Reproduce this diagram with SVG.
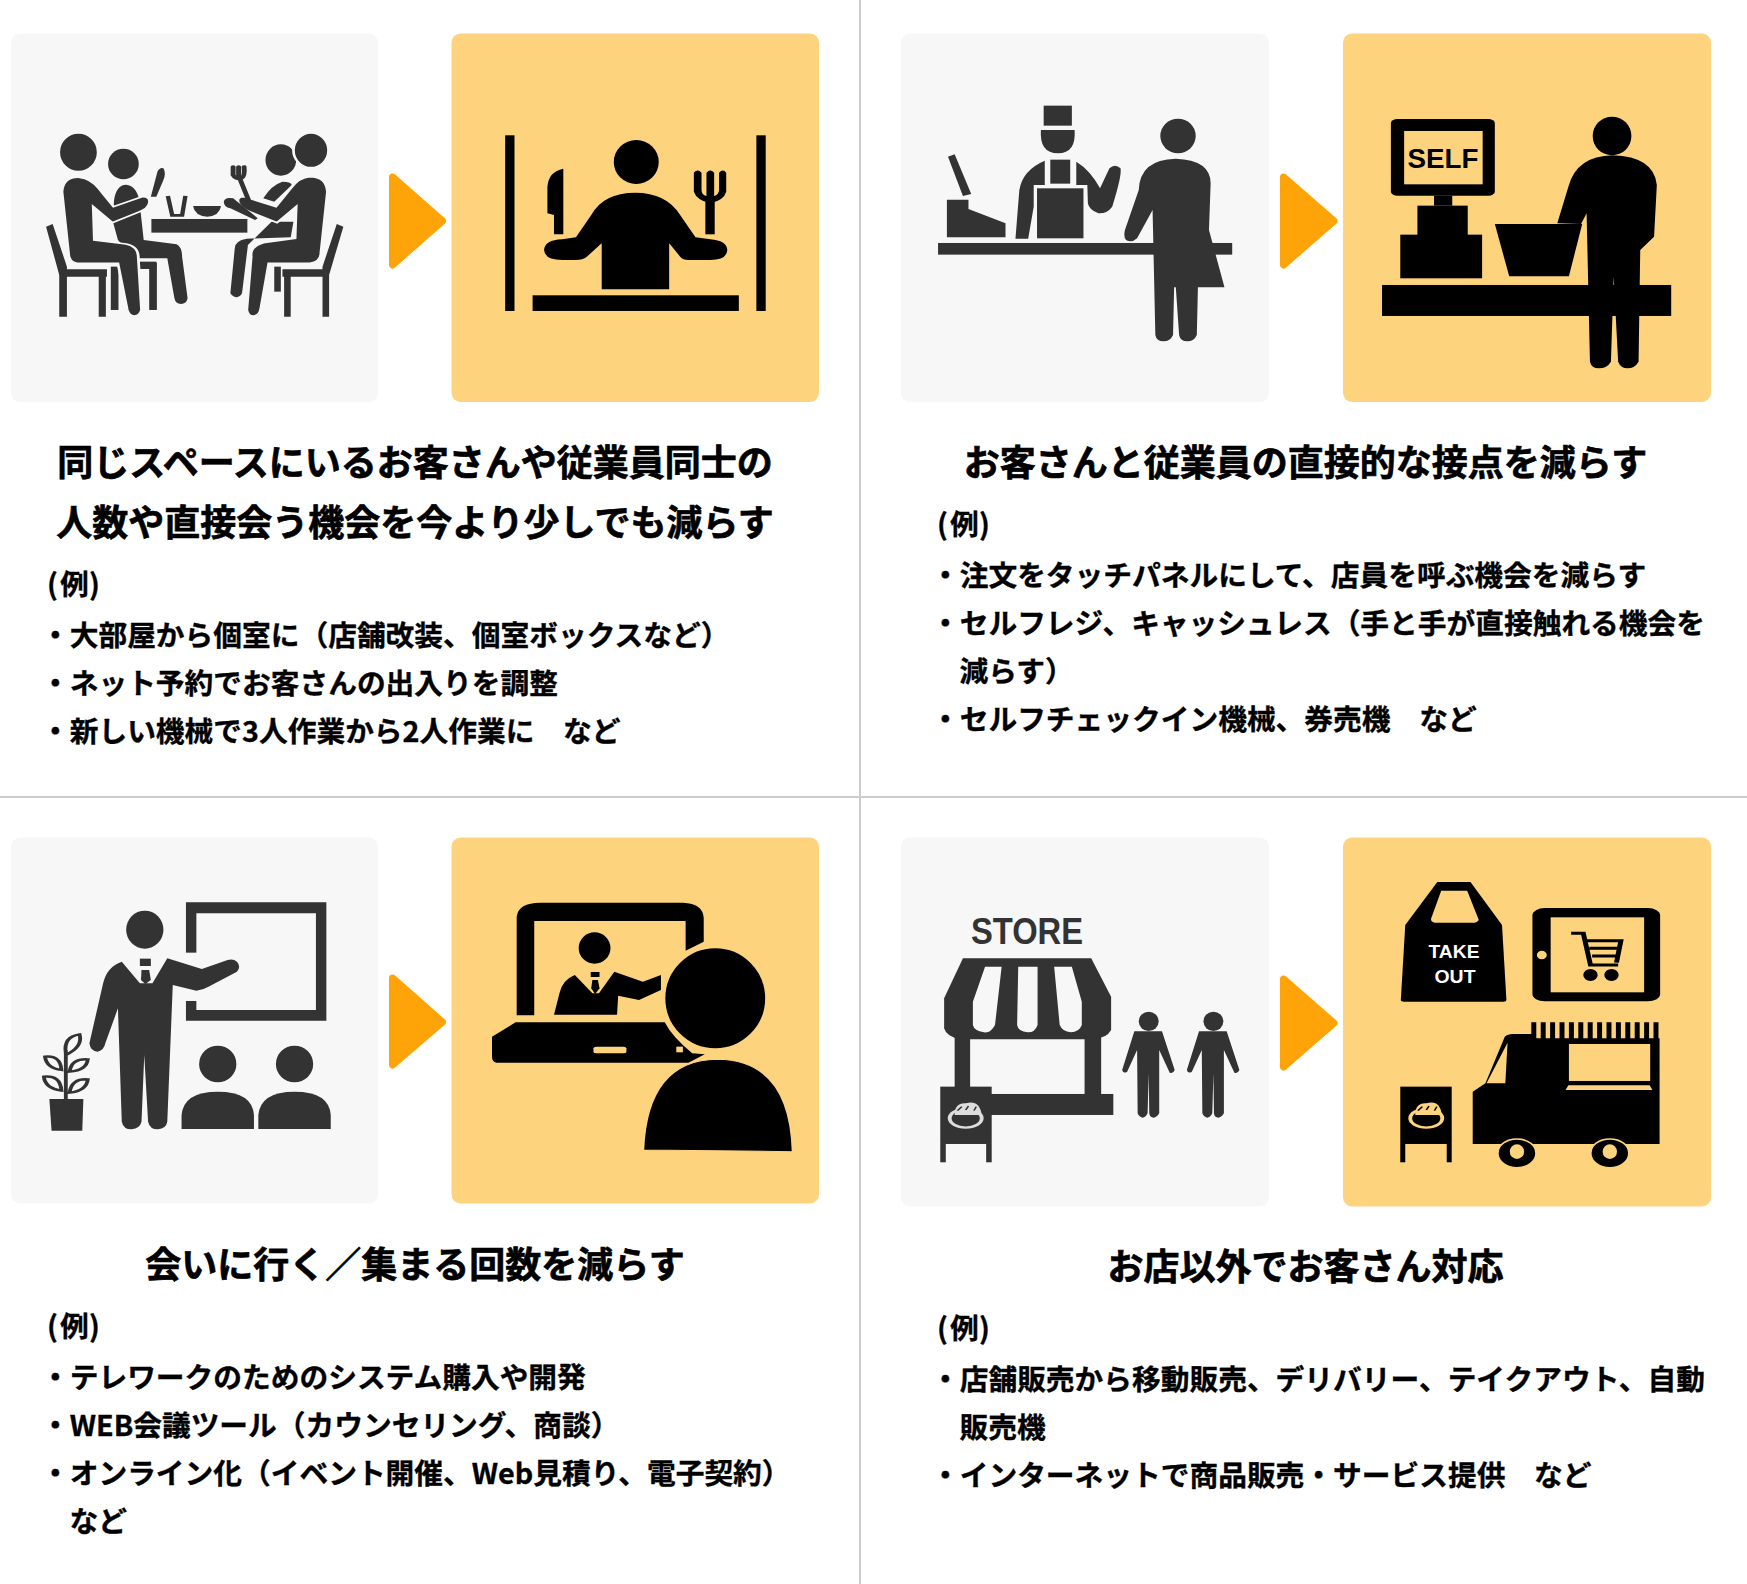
<svg xmlns="http://www.w3.org/2000/svg" xmlns:xlink="http://www.w3.org/1999/xlink" width="1747" height="1584" viewBox="0 0 1747 1584">
<style>
text{font-family:"Noto Sans CJK JP","Liberation Sans",sans-serif;font-weight:700;fill:#000}
.h{font-size:36px;text-anchor:middle;stroke:#000;stroke-width:.7px}
.b{font-size:28.72px;stroke:#000;stroke-width:.35px}
.lbl{font-family:"Liberation Sans",sans-serif}
.before{fill:#f7f7f7}
.after{fill:#fed37e}
.arrow{fill:#ffa408;stroke:#ffa408;stroke-width:7;stroke-linejoin:round}
.div{stroke:#ccc;stroke-width:2}
.g{fill:#333}
.k{fill:#000}
.ho{stroke:#f7f7f7;stroke-width:5;fill:#333}
.o{fill:#fed37e}
</style>
<defs>
<g id="walker"><ellipse cx="486" cy="604" rx="18" ry="29"/><path d="M460,634H510L533,750Q530,762 524,758L505,690V880Q500,893 495,893Q488,893 487,880L486,760L484,880Q480,893 475,893Q468,890 466,880L465,690L447,755Q440,762 438,750Z"/></g>
</defs>
<rect width="1747" height="1584" fill="#fff"/>
<g id="dividers"><line class="div" x1="860" y1="0" x2="860" y2="1584"/><line class="div" x1="0" y1="797" x2="1747" y2="797"/></g>
<g id="connectors">
<path class="arrow" d="M392.500,177L442.500,221L392.500,265Z"/>
<path class="arrow" d="M1283.500,177L1334,221L1283.500,265Z"/>
<path class="arrow" d="M392.500,978L442.500,1022L392.500,1065Z"/>
<path class="arrow" d="M1283.500,979L1334,1023L1283.500,1067Z"/>
</g>

<g id="panel-top-left">
<rect class="before" x="11" y="33.5" width="367" height="368.5" rx="9"/>
<rect class="after" x="451.500" y="33.5" width="367.500" height="368.5" rx="9"/>
<g transform="scale(.5485,.3333)">
<g class="g">
<ellipse cx="225" cy="492" rx="28" ry="46"/>
<path d="M208,600Q212,555 230,554Q248,556 254,600L262,720L322,733Q332,742 332,770L342,895Q340,912 330,912Q320,912 318,895L305,775H245L215,720L205,660Z"/>
<rect x="202" y="800" width="14" height="130"/><rect x="272" y="788" width="14" height="142"/><rect x="255" y="785" width="30" height="22"/>
<path d="M84,680L96,672L122,800V808H195V830H193V950H180V830H122V950H108V825Z"/>
<ellipse class="ho" cx="143" cy="457" rx="36" ry="58"/>
<path class="ho" d="M113,575Q115,530 145,532Q165,535 180,565L207,620L260,590Q275,590 272,610Q270,625 255,635L205,668L170,620L172,720L230,732Q252,740 252,770L258,930Q255,948 245,948Q235,948 232,930L215,790H140Q125,785 125,760Z"/>
<path d="M275,590L287,515Q292,500 298,505Q303,520 298,540L285,590Z"/>
<rect x="276" y="657" width="175" height="41"/>
<path fill="none" stroke="#333" stroke-width="8" d="M306,588L314,646H332L338,588"/>
<path d="M352,618H403Q400,648 378,650Q355,648 352,618Z"/>
<ellipse cx="512" cy="480" rx="28" ry="47"/>
<path d="M480,595Q495,555 515,545Q530,545 532,555L500,605Z"/>
<path d="M495,665H535L530,712L450,716Q428,722 428,745L420,880Q425,892 432,892Q442,888 442,870L452,735Z"/>
<rect x="500" y="800" width="12" height="75"/>
<path d="M626,680L614,672L588,800V808H515V830H518V950H530V830H588V950H600V825Z"/>
<ellipse class="ho" cx="567" cy="451" rx="32" ry="52"/>
<path class="ho" d="M597,575Q595,530 565,530Q545,532 530,565L503,620L445,590Q430,590 435,610Q440,625 455,635L505,668L540,620L538,715L480,728Q455,740 458,770L450,930Q452,948 462,948Q472,948 475,930L490,790H565Q585,785 585,760Z"/>
<path fill="none" stroke="#333" stroke-width="9" stroke-linecap="round" d="M437,535L453,600M425,500V525Q430,540 440,535Q447,530 445,500M435,500V530"/>
<path d="M408,605Q410,590 425,595L470,655L465,660L420,625Q408,620 408,605Z"/>
</g>
<g class="k">
<rect x="921" y="406" width="17" height="527"/><rect x="1379" y="406" width="17" height="527"/><rect x="971" y="886" width="376" height="47"/>
<ellipse cx="1160" cy="486" rx="41" ry="66"/>
<path d="M1027,506Q1000,515 998,560V640L1010,645V703H1027Z"/>
<rect x="1286" y="600" width="17" height="103"/>
<path d="M1265,518Q1272,505 1279,518V570Q1279,585 1288,588V518Q1295,505 1302,518V588Q1310,585 1311,570V518Q1318,505 1324,518V575Q1320,600 1295,610Q1270,600 1265,575Z"/>
<path d="M1097,868V730L1070,770Q1062,780 1050,780H1025Q993,780 992,750Q993,720 1025,718L1050,712L1078,645Q1100,578 1158,578Q1215,578 1240,645L1268,712L1295,718Q1325,722 1326,750Q1325,780 1295,780H1255Q1245,780 1240,770L1220,730V868Z"/>
</g>
</g>
<text class="h" x="415" y="476">同じスペースにいるお客さんや従業員同士の</text>
<text class="h" x="415" y="536">人数や直接会う機会を今より少しでも減らす</text>
<text class="b" x="47 60 89" y="595">(例)</text>
<text class="b" x="41" y="646">・大部屋から個室に（店舗改装、個室ボックスなど）</text>
<text class="b" x="41" y="694">・ネット予約でお客さんの出入りを調整</text>
<text class="b" x="41" y="742">・新しい機械で3人作業から2人作業に　など</text>
</g>

<g id="panel-top-right">
<rect class="before" x="901" y="33.5" width="368" height="368.5" rx="9"/>
<rect class="after" x="1343" y="33.5" width="368" height="368.5" rx="9"/>
<g transform="translate(880,0) scale(.5529,.3333)">
<g class="g">
<rect x="296" y="317" width="51" height="60"/>
<path d="M291,390H352Q355,460 322,460Q288,460 291,390Z"/>
<path d="M121,599H160V627L227,670V712H121Z"/>
<path d="M123,470L135,463L165,582L150,588Z"/>
<path d="M298,482Q258,510 252,570L245,716H268L278,620V555H298Z"/>
<rect x="308" y="479" width="36" height="72"/><rect x="284" y="565" width="84" height="150"/>
<path d="M355,485Q380,510 398,565L415,505Q425,490 435,505Q438,525 420,620Q410,642 395,640Q378,630 376,610L375,555H355Z"/>
<rect x="105" y="729" width="532" height="35"/>
<ellipse cx="539" cy="408" rx="32" ry="52"/>
<path d="M468,570Q470,478 535,476Q598,480 598,550L595,690L623,862H575L573,1005Q568,1024 556,1024Q543,1024 541,1005L535,862H532L530,1005Q525,1024 513,1024Q500,1024 498,1005L493,630L465,715Q455,730 445,720Q440,710 443,690Z"/>
</g>
<g class="k">
<rect x="924" y="357" width="188" height="230" rx="12"/><rect class="o" x="948" y="393" width="142" height="160"/>
<rect x="1002" y="587" width="33" height="30"/><rect x="972" y="617" width="91" height="90"/><rect x="941" y="704" width="148" height="131"/>
<path d="M1112,672H1270L1246,829H1138Z"/>
<rect x="908" y="855" width="523" height="93"/>
<ellipse cx="1324" cy="408" rx="35" ry="58"/>
<path d="M1225,670L1245,560Q1260,468 1325,466Q1400,470 1405,555L1400,710L1375,750L1372,1085Q1365,1105 1352,1105Q1340,1105 1335,1085L1327,830L1322,1085Q1315,1105 1300,1105Q1287,1105 1284,1085L1278,640L1268,672Z"/>
</g>
</g>
<text class="lbl" x="1407.500" y="168" font-size="27" textLength="71" lengthAdjust="spacingAndGlyphs">SELF</text>
<text class="h" x="1305.500" y="476">お客さんと従業員の直接的な接点を減らす</text>
<text class="b" x="937 950 979" y="535">(例)</text>
<text class="b" x="931" y="586">・注文をタッチパネルにして、店員を呼ぶ機会を減らす</text>
<text class="b" x="931" y="634">・セルフレジ、キャッシュレス（手と手が直接触れる機会を</text>
<text class="b" x="959.500" y="682">減らす）</text>
<text class="b" x="931" y="730">・セルフチェックイン機械、券売機　など</text>
</g>

<g id="panel-bottom-left">
<rect class="before" x="11" y="837.500" width="367" height="366" rx="9"/>
<rect class="after" x="451.500" y="837.500" width="367.500" height="366" rx="9"/>
<g transform="translate(0,820) scale(.5485,.3333)">
<g class="g">
<path fill-rule="evenodd" d="M339,247H595V602H339ZM358,280V570H576V280Z"/>
<rect class="before" x="335" y="398" width="26" height="145"/>
<ellipse cx="264" cy="329" rx="34" ry="57"/>
<rect x="255" y="416" width="20" height="22"/>
<path d="M258,450H272L275,480L265,492L257,480Z"/>
<path d="M222,425Q195,440 188,490L163,670Q165,695 178,695Q190,690 192,670L215,565L222,905Q225,928 240,928Q255,925 258,905L263,705L270,905Q273,928 288,928Q303,925 305,905L315,495L358,512Q370,510 380,500L432,455Q440,440 432,425Q425,415 415,420L368,447L305,415L278,490H255Z"/>
<path d="M90,837H152L150,932H94Z"/>
<path fill="none" stroke="#333" stroke-width="7" d="M120,840V690M120,700Q115,650 145,643Q152,680 120,705M112,750Q85,745 82,710Q110,705 112,750ZM127,755Q158,750 160,718Q130,715 127,755ZM112,812Q82,805 80,770Q110,765 112,812ZM127,818Q158,812 160,778Q130,775 127,818Z"/>
<ellipse cx="397" cy="732" rx="34" ry="55"/><ellipse cx="537" cy="732" rx="34" ry="55"/>
<path d="M331,927V885Q335,815 397,815Q460,815 463,885V927Z"/>
<path d="M471,927V885Q475,815 537,815Q600,815 603,885V927Z"/>
</g>
<g class="k">
<path d="M942,586V290Q945,248 985,248H1245Q1282,250 1283,295V365L1250,392V303H974V586Z"/>
<ellipse cx="1084" cy="384" rx="29" ry="47"/>
<rect x="1077" y="456" width="16" height="15"/>
<path d="M1080,480H1090L1093,505L1085,522L1078,505Z"/>
<path d="M1010,584L1020,520Q1025,480 1048,465L1080,520H1092L1120,455L1172,485L1205,465V510L1165,540L1127,527L1125,584Z"/>
<path d="M940,607H1212Q1225,650 1262,700L1285,703L1255,728H905Q897,725 897,710V650Z"/>
<rect class="o" x="1082" y="680" width="60" height="20" rx="5"/><rect class="o" x="1233" y="680" width="12" height="17"/>
<ellipse cx="1304" cy="535" rx="94" ry="153" stroke="#fed37e" stroke-width="6"/>
<path d="M1173,990Q1180,720 1308,718Q1440,720 1445,995Z" stroke="#fed37e" stroke-width="3"/>
</g>
</g>
<text class="h" x="415" y="1278">会いに行く／集まる回数を減らす</text>
<text class="b" x="47 60 89" y="1337">(例)</text>
<text class="b" x="41" y="1388">・テレワークのためのシステム購入や開発</text>
<text class="b" x="41" y="1436">・WEB会議ツール（カウンセリング、商談）</text>
<text class="b" x="41" y="1484">・オンライン化（イベント開催、Web見積り、電子契約）</text>
<text class="b" x="69.500" y="1532">など</text>
</g>

<g id="panel-bottom-right">
<rect class="before" x="901" y="837.500" width="368" height="369" rx="9"/>
<rect class="after" x="1343" y="837.500" width="368" height="369" rx="9"/>
<g transform="translate(880,820) scale(.5529,.3333)">
<g class="g">
<path d="M150,415H382L418,530V630Q410,655 385,658H145Q120,650 116,625V535Z"/>
<path class="before" d="M190,440H220L208,615Q200,640 188,637Q170,632 168,615V545ZM250,440H285V615Q280,638 267,637Q250,635 248,615ZM315,440H347L365,545V615Q360,637 345,637Q330,635 325,615Z"/>
<rect x="135" y="650" width="28" height="160"/><rect x="370" y="650" width="30" height="175"/>
<rect x="200" y="822" width="222" height="63"/>
<rect x="109" y="800" width="93" height="172"/><rect x="109" y="972" width="10" height="55"/><rect x="192" y="972" width="10" height="55"/>
<ellipse cx="155" cy="895" rx="29" ry="28" fill="none" stroke="#ddd" stroke-width="7"/>
<path d="M135,885Q135,848 155,850Q180,838 184,885Z" fill="#ddd"/>
<path d="M140,872L148,860M155,870L160,858M170,872L174,860" fill="none" stroke="#333" stroke-width="3"/>
<use xlink:href="#walker" href="#walker"/>
<use xlink:href="#walker" href="#walker" x="117"/>
</g>
<g class="k">
<path d="M1008,186H1068L1125,315L1133,540Q1133,545 1128,545H948Q942,545 942,540L950,315Z"/>
<path class="o" d="M1015,212H1062L1083,300Q1080,308 1075,308H1003Q995,305 997,295Z"/>
<rect x="1180" y="264" width="231" height="280" rx="22"/>
<rect class="o" x="1213" y="292" width="169" height="225"/>
<ellipse class="o" cx="1197" cy="405" rx="9" ry="13"/>
<path fill="none" stroke="#000" stroke-width="9" d="M1250,340H1272L1285,435H1335M1278,362H1340L1332,428M1283,385H1335M1288,408H1332"/>
<ellipse cx="1285" cy="465" rx="13" ry="18"/><ellipse cx="1323" cy="465" rx="13" ry="18"/>
<path d="M1072,815L1095,790L1130,650Q1135,642 1145,642H1180V655H1410V972H1072Z"/>
<path class="o" d="M1135,668L1131,790H1097Z"/>
<rect class="o" x="1246" y="672" width="147" height="111"/>
<path class="o" d="M1245,796H1392L1397,810H1240Z"/>
<path fill="none" stroke="#000" stroke-width="50" stroke-dasharray="9 8" d="M1178,632H1408"/>
<ellipse cx="1152" cy="1000" rx="35" ry="43" stroke="#fed37e" stroke-width="4"/><ellipse class="o" cx="1152" cy="995" rx="13" ry="22"/>
<ellipse cx="1320" cy="1000" rx="35" ry="43" stroke="#fed37e" stroke-width="4"/><ellipse class="o" cx="1320" cy="995" rx="13" ry="22"/>
<rect x="941" y="800" width="93" height="172"/><rect x="941" y="972" width="9" height="55"/><rect x="1025" y="972" width="9" height="55"/>
<ellipse cx="988" cy="895" rx="29" ry="28" fill="none" stroke="#fed37e" stroke-width="7"/>
<path class="o" d="M968,885Q968,848 988,850Q1013,838 1016,885Z"/>
<path d="M973,872L981,860M988,870L993,858M1003,872L1007,860" fill="none" stroke="#000" stroke-width="3"/>
</g>
</g>
<text class="lbl" x="971" y="944" font-size="37" style="fill:#333" textLength="112" lengthAdjust="spacingAndGlyphs">STORE</text>
<text class="lbl" x="1428.500" y="958" font-size="19" style="fill:#fff" textLength="51" lengthAdjust="spacingAndGlyphs">TAKE</text>
<text class="lbl" x="1434.500" y="983" font-size="19" style="fill:#fff" textLength="41" lengthAdjust="spacingAndGlyphs">OUT</text>
<text class="h" x="1305.500" y="1280">お店以外でお客さん対応</text>
<text class="b" x="937 950 979" y="1339">(例)</text>
<text class="b" x="931" y="1390">・店舗販売から移動販売、デリバリー、テイクアウト、自動</text>
<text class="b" x="959.500" y="1438">販売機</text>
<text class="b" x="931" y="1486">・インターネットで商品販売・サービス提供　など</text>
</g>
</svg>
